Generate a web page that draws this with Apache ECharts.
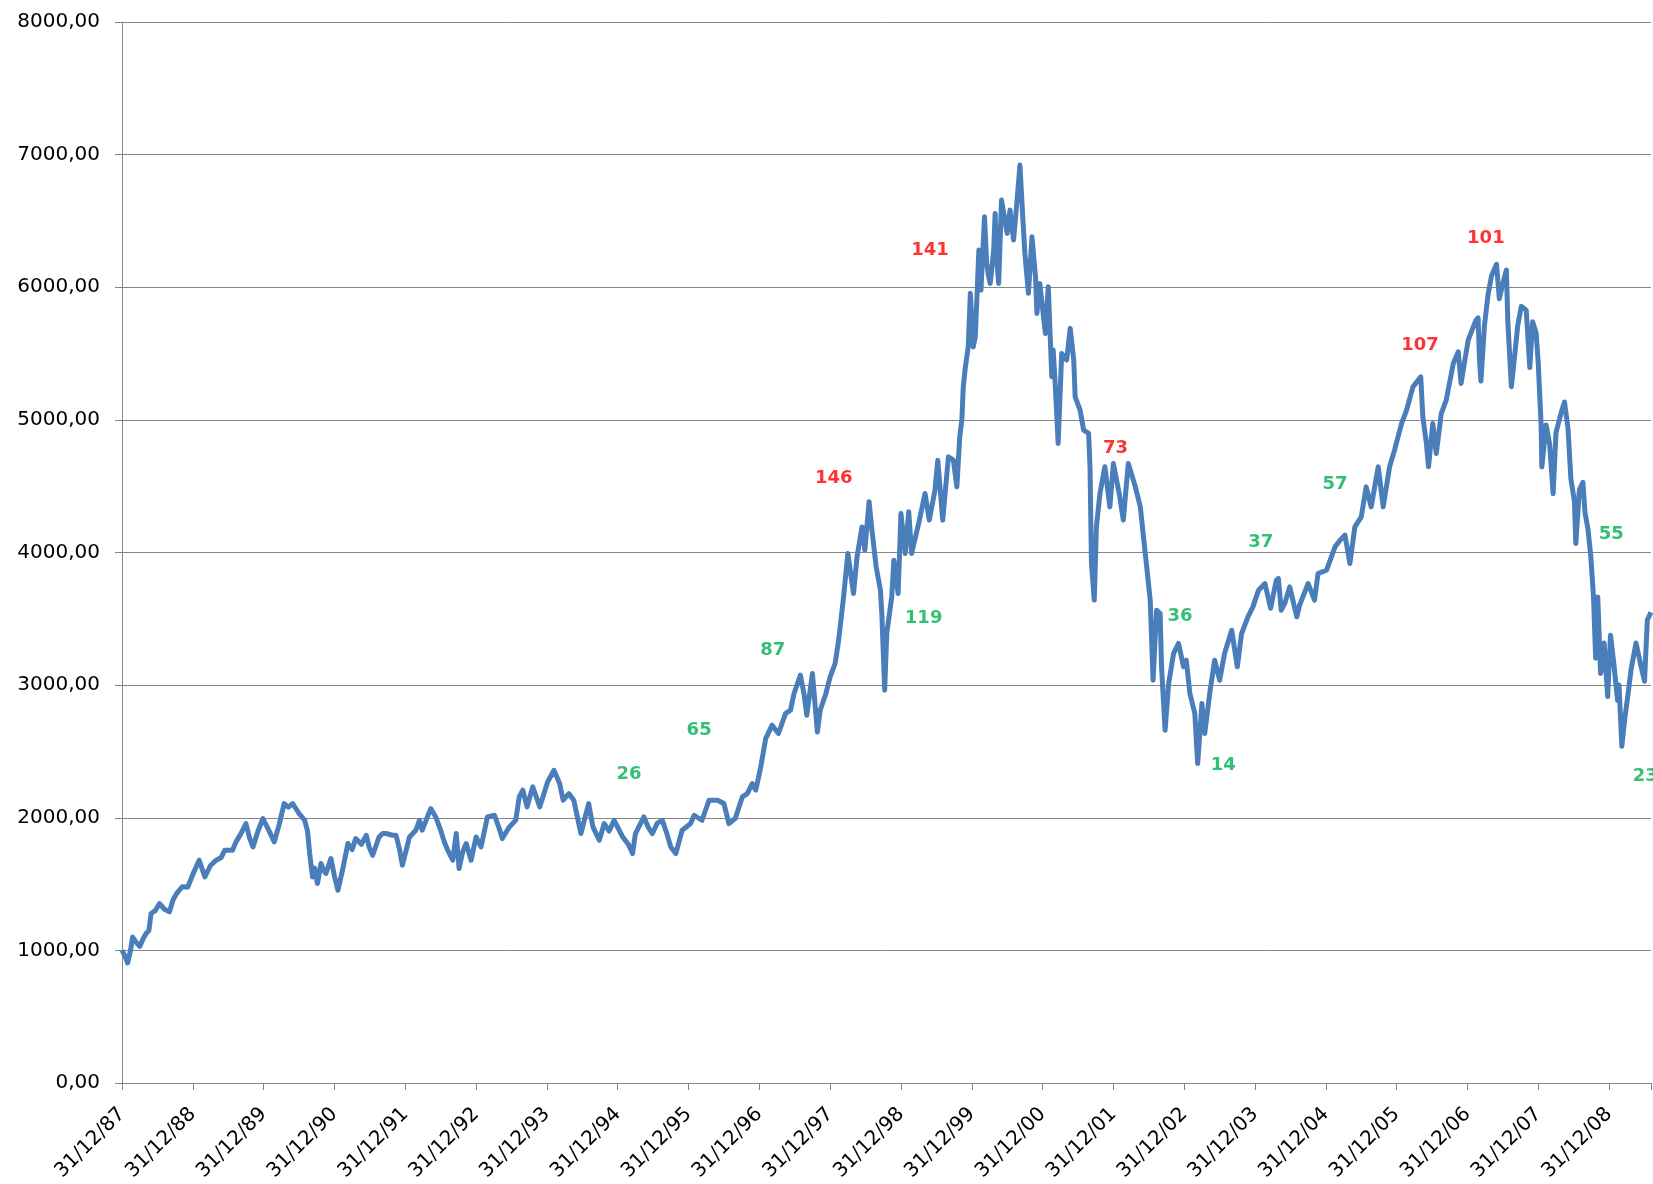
<!DOCTYPE html>
<html>
<head>
<meta charset="utf-8">
<title>CAC 40 31/12/87 - 2009</title>
<script src="https://cdn.jsdelivr.net/npm/echarts/dist/echarts.min.js"></script>
<style>
  html, body { margin: 0; padding: 0; background: #ffffff; }
  #chart { width: 1653px; height: 1184px; }
</style>
</head>
<body>
<div id="chart"></div>
<script>
  // years elapsed since 31/12/87 (x) and index level (y)
  var yearPos = [
    0.00, 0.04, 0.08, 0.12, 0.15, 0.20, 0.25, 0.30, 0.34, 0.38, 0.41, 0.47, 0.53, 0.60, 0.67, 0.72, 0.77, 0.85, 0.93,
    1.00, 1.09, 1.17, 1.25, 1.33, 1.40, 1.45, 1.56, 1.61, 1.68, 1.75, 1.80, 1.85, 1.92, 1.99,
    2.06, 2.15, 2.22, 2.29, 2.35, 2.41, 2.50, 2.58, 2.62, 2.65, 2.69, 2.72, 2.76, 2.81, 2.85, 2.88, 2.95,
    3.00, 3.05, 3.12, 3.19, 3.25, 3.30, 3.38, 3.45, 3.49, 3.54, 3.63, 3.68, 3.73, 3.82, 3.87, 3.92, 3.96,
    4.06, 4.15, 4.20, 4.24, 4.30, 4.36, 4.43, 4.50, 4.55, 4.60, 4.67, 4.72, 4.76, 4.81, 4.86, 4.93,
    5.00, 5.07, 5.16, 5.26, 5.32, 5.37, 5.47, 5.56, 5.61, 5.66, 5.72, 5.80, 5.90,
    6.01, 6.10, 6.18, 6.23, 6.31, 6.38, 6.48, 6.59, 6.65, 6.74, 6.81, 6.88, 6.95,
    7.07, 7.15, 7.21, 7.25, 7.37, 7.43, 7.49, 7.56, 7.63, 7.70, 7.75, 7.82, 7.91,
    8.03, 8.08, 8.19, 8.29, 8.41, 8.50, 8.57, 8.66, 8.76, 8.83, 8.90, 8.95,
    9.02, 9.09, 9.18, 9.27, 9.37, 9.44, 9.49, 9.58, 9.63, 9.67, 9.75, 9.82, 9.86, 9.94,
    10.00, 10.07, 10.12, 10.19, 10.25, 10.33, 10.38, 10.45, 10.49, 10.55, 10.59, 10.65, 10.71, 10.73, 10.77, 10.80, 10.87, 10.90, 10.96,
    11.00, 11.06, 11.11, 11.15, 11.25, 11.34, 11.40, 11.48, 11.52, 11.59, 11.67, 11.74, 11.79, 11.83, 11.86, 11.88, 11.91, 11.95, 11.98,
    12.02, 12.05, 12.10, 12.13, 12.18, 12.21, 12.24, 12.26, 12.31, 12.33, 12.35, 12.38, 12.42, 12.50, 12.54, 12.59, 12.64, 12.68, 12.72, 12.75, 12.80, 12.85, 12.90, 12.92, 12.96,
    13.04, 13.08, 13.13, 13.15, 13.18, 13.22, 13.27, 13.34, 13.39, 13.44, 13.46, 13.53, 13.58, 13.65, 13.67, 13.69, 13.73, 13.76, 13.81, 13.88, 13.95,
    14.00, 14.09, 14.14, 14.21, 14.31, 14.38, 14.42, 14.47, 14.52, 14.56, 14.61, 14.66, 14.68, 14.73, 14.78, 14.85, 14.92, 14.99,
    15.03, 15.08, 15.15, 15.19, 15.25, 15.29, 15.36, 15.43, 15.50, 15.57, 15.67, 15.75, 15.81, 15.90, 15.97,
    16.05, 16.14, 16.22, 16.30, 16.33, 16.37, 16.42, 16.49, 16.51, 16.59, 16.63, 16.75, 16.84, 16.89,
    17.01, 17.13, 17.20, 17.27, 17.34, 17.41, 17.50, 17.57, 17.64, 17.74, 17.81, 17.90, 17.97,
    18.07, 18.14, 18.23, 18.34, 18.37, 18.42, 18.45, 18.51, 18.56, 18.63, 18.70, 18.80, 18.87, 18.91,
    19.01, 19.12, 19.15, 19.17, 19.19, 19.24, 19.29, 19.34, 19.41, 19.45, 19.50, 19.55, 19.57, 19.62, 19.66, 19.71, 19.76, 19.83, 19.88, 19.92, 19.97,
    20.00, 20.04, 20.05, 20.11, 20.16, 20.21, 20.25, 20.32, 20.37, 20.42, 20.46, 20.51, 20.53, 20.58, 20.63, 20.66, 20.70, 20.74, 20.78, 20.81, 20.84, 20.88, 20.93, 20.98,
    21.02, 21.07, 21.12, 21.14, 21.18, 21.22, 21.27, 21.31, 21.38, 21.45, 21.50, 21.54, 21.59
  ];
  var level = [
    1000, 960, 905, 1000, 1100, 1060, 1030, 1090, 1127, 1150, 1278, 1300, 1353, 1310, 1290, 1380, 1428, 1480, 1478,
    1573, 1680, 1554, 1640, 1680, 1700, 1755, 1755, 1818, 1880, 1956, 1850, 1780, 1900, 1994,
    1920, 1818, 1950, 2107, 2080, 2107, 2032, 1981, 1900, 1730, 1554, 1620, 1504, 1655, 1600, 1579, 1692,
    1560, 1453, 1620, 1806, 1760, 1843, 1800, 1868, 1780, 1717, 1855, 1881, 1881, 1868, 1868, 1760, 1642,
    1855, 1906, 1981, 1906, 1990, 2069, 2006, 1906, 1820, 1755, 1680, 1881, 1617, 1740, 1806, 1680,
    1855, 1780, 2006, 2019, 1930, 1843, 1931, 1981, 2157, 2208, 2082, 2233, 2082,
    2270, 2358, 2258, 2132, 2182, 2132, 1881, 2107, 1931, 1831, 1956, 1900, 1981,
    1855, 1800, 1730, 1881, 2006, 1930, 1881, 1960, 1981, 1870, 1780, 1730, 1906,
    1956, 2019, 1981, 2132, 2132, 2107, 1956, 1994, 2157, 2182, 2258, 2208,
    2383, 2597, 2698, 2635, 2786, 2811, 2937, 3075, 2937, 2773, 3088, 2647, 2811, 2937,
    3062, 3163, 3339, 3666, 3993, 3691, 3967, 4193, 4018, 4382, 4169, 3892, 3716, 3540, 2962, 3389, 3666, 3942, 3691,
    4294, 3993, 4307, 3993, 4219, 4445, 4244, 4470, 4696, 4244, 4721, 4696, 4495, 4872, 5000, 5249, 5400, 5551, 5954,
    5550, 5626, 6280, 5978, 6531, 6180, 6079, 6029, 6280, 6557, 6230, 6029, 6657, 6406, 6582, 6356, 6657, 6921, 6531, 6255, 5954, 6381, 6079, 5803, 6029,
    5652, 6004, 5325, 5526, 5250, 4822, 5501, 5451, 5690, 5451, 5174, 5073, 4922, 4898, 4646, 3917, 3641, 4193, 4445, 4646, 4344,
    4671, 4420, 4244, 4671, 4495, 4344, 4143, 3892, 3641, 3037, 3565, 3540, 3138, 2660, 3012, 3239, 3314, 3138,
    3188, 2937, 2786, 2409, 2861, 2635, 2937, 3188, 3037, 3239, 3414, 3138, 3389, 3515, 3590,
    3716, 3766, 3580, 3791, 3804, 3565, 3616, 3741, 3754, 3515, 3603, 3766, 3641, 3842,
    3867, 4043, 4093, 4131, 3917, 4193, 4269, 4495, 4344, 4646, 4344, 4646, 4772,
    4973, 5073, 5249, 5325, 5023, 4822, 4646, 4973, 4747, 5048, 5149, 5426, 5513, 5275,
    5601, 5752, 5769, 5452, 5293, 5712, 5942, 6087, 6173, 5913, 6029, 6130, 5740, 5250, 5452, 5712, 5856, 5827, 5394, 5740, 5654,
    5423, 4962, 4645, 4962, 4818, 4443, 4904, 5048, 5135, 4933, 4558, 4385, 4068, 4472, 4529, 4298, 4183, 3981, 3664, 3203, 3664, 3087, 3318, 2914,
    3376, 3145, 2885, 3001, 2539, 2741, 2943, 3116, 3318, 3145, 3029, 3491, 3549
  ];

  var xLabels = ['31/12/87', '31/12/88', '31/12/89', '31/12/90', '31/12/91', '31/12/92', '31/12/93',
    '31/12/94', '31/12/95', '31/12/96', '31/12/97', '31/12/98', '31/12/99', '31/12/00', '31/12/01',
    '31/12/02', '31/12/03', '31/12/04', '31/12/05', '31/12/06', '31/12/07', '31/12/08'];

  // annotations, placed in data coordinates (red = tops, green = others)
  var noteText  = ['26', '65', '87', '146', '119', '141', '73', '36', '14', '37', '57', '107', '101', '55', '23'];
  var noteYear  = [7.16, 8.15, 9.19, 10.05, 11.32, 11.41, 14.03, 14.94, 15.55, 16.08, 17.13, 18.33, 19.26, 21.03, 21.51];
  var noteLevel = [2328, 2660, 3263, 4558, 3503, 6280, 4785, 3520, 2396, 4080, 4516, 5564, 6369, 4134, 2314];
  var noteUp    = [false, false, false, true, false, true, true, false, false, false, false, true, true, false, false];

  var lineData = yearPos.map(function (t, i) { return [t, level[i]]; });
  var noteData = noteText.map(function (txt, i) {
    return {
      value: [noteYear[i], noteLevel[i]],
      label: { color: noteUp[i] ? '#FF0000' : '#00B050' }
    };
  });

  var font = 'Verdana, "DejaVu Sans", sans-serif';
  var chart = echarts.init(document.getElementById('chart'));
  chart.setOption({
    animation: false,
    backgroundColor: '#ffffff',
    grid: { left: 122, right: 0, top: 22, bottom: 101 },
    xAxis: {
      type: 'value',
      min: 0,
      max: 21.59,
      interval: 1,
      axisLine: { lineStyle: { color: '#868686', width: 1 } },
      axisTick: { show: true, length: 7, lineStyle: { color: '#868686' } },
      splitLine: { show: false },
      axisLabel: {
        rotate: 45,
        margin: 28,
        fontFamily: font,
        fontSize: 20,
        color: '#000000',
        formatter: function (v) { return xLabels[v] || ''; }
      }
    },
    yAxis: {
      type: 'value',
      min: 0,
      max: 8000,
      interval: 1000,
      axisLine: { show: true, lineStyle: { color: '#868686', width: 1 } },
      axisTick: { show: true, length: 7, lineStyle: { color: '#868686' } },
      splitLine: { show: true, lineStyle: { color: '#868686', width: 1 } },
      axisLabel: {
        margin: 22,
        fontFamily: font,
        fontSize: 20,
        color: '#000000',
        formatter: function (v) { return v.toFixed(2).replace('.', ','); }
      }
    },
    series: [
      {
        type: 'line',
        data: lineData,
        showSymbol: false,
        symbol: 'none',
        lineStyle: { width: 5, color: '#4A7EBB', join: 'round' },
        z: 2
      },
      {
        type: 'scatter',
        data: noteData,
        symbolSize: 0,
        itemStyle: { color: 'rgba(0,0,0,0)' },
        label: {
          show: true,
          position: 'inside',
          fontFamily: font,
          fontWeight: 'bold',
          fontSize: 18,
          formatter: function (p) { return noteText[p.dataIndex]; }
        },
        z: 3
      }
    ]
  });
</script>
</body>
</html>
